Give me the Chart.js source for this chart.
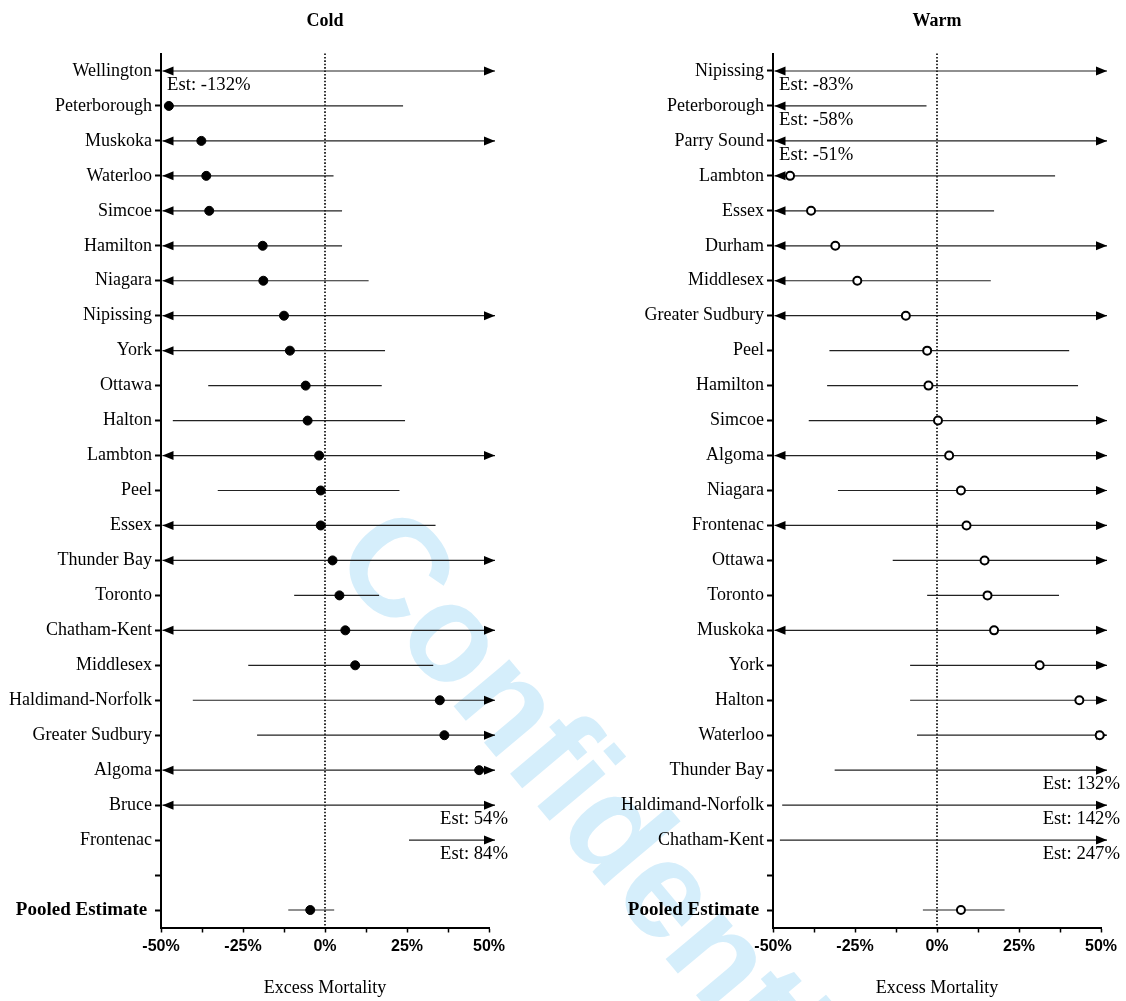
<!DOCTYPE html>
<html>
<head>
<meta charset="utf-8">
<title>Excess Mortality – Cold and Warm</title>
<script src="https://cdn.jsdelivr.net/npm/chart.js@4.4.1/dist/chart.umd.min.js"></script>
<style>
  html, body { margin: 0; padding: 0; background: #fff; }
  #page { position: relative; width: 1126px; height: 1001px; overflow: hidden; }
  #stamp {
    position: absolute; left: 419px; top: 483px;
    font: bold 138px 'Liberation Sans', Arial, sans-serif; line-height: 1;
    color: #d5eefb; white-space: nowrap;
    transform-origin: 0 0; transform: rotate(50deg);
  }
  canvas { position: absolute; top: 0; }
  #cold { left: 0; }
  #warm { left: 612px; }
</style>
</head>
<body>
<div id="page">
  <div id="stamp">Confidential</div>
  <canvas id="cold" width="560" height="1001"></canvas>
  <canvas id="warm" width="514" height="1001"></canvas>
</div>
<script>
// Excess mortality (%) by health unit, with 95% CI.
// A null bound means the interval runs past the axis (drawn as an arrow).

const coldRegions = ['Wellington', 'Peterborough', 'Muskoka', 'Waterloo', 'Simcoe', 'Hamilton', 'Niagara',
  'Nipissing', 'York', 'Ottawa', 'Halton', 'Lambton', 'Peel', 'Essex', 'Thunder Bay', 'Toronto',
  'Chatham-Kent', 'Middlesex', 'Haldimand-Norfolk', 'Greater Sudbury', 'Algoma', 'Bruce', 'Frontenac'];
const coldEst   = [-132, -47.6, -37.7, -36.2, -35.3, -19.0, -18.8, -12.5, -10.7, -5.9, -5.3, -1.8, -1.3, -1.3,
  2.3, 4.4, 6.2, 9.2, 35.0, 36.4, 47.0, 54, 84];
const coldLower = [null, -49, null, null, null, null, null, null, null, -35.6, -46.4, null, -32.7, null,
  null, -9.4, null, -23.4, -40.3, -20.7, null, null, 25.6];
const coldUpper = [null, 23.8, null, 2.6, 5.2, 5.2, 13.3, null, 18.3, 17.3, 24.4, null, 22.7, 33.7,
  null, 16.5, null, 33.0, null, null, null, null, null];
const coldPooled = { est: -4.5, lower: -11.2, upper: 2.8 };

const warmRegions = ['Nipissing', 'Peterborough', 'Parry Sound', 'Lambton', 'Essex', 'Durham', 'Middlesex',
  'Greater Sudbury', 'Peel', 'Hamilton', 'Simcoe', 'Algoma', 'Niagara', 'Frontenac', 'Ottawa', 'Toronto',
  'Muskoka', 'York', 'Halton', 'Waterloo', 'Thunder Bay', 'Haldimand-Norfolk', 'Chatham-Kent'];
const warmEst   = [-83, -58, -51, -44.8, -38.4, -31.0, -24.3, -9.5, -3.0, -2.6, 0.3, 3.7, 7.3, 9.0,
  14.5, 15.4, 17.4, 31.3, 43.4, 49.6, 132, 142, 247];
const warmLower = [null, null, null, null, null, null, null, null, -32.8, -33.5, -39.1, null, -30.2, null,
  -13.5, -3.0, null, -8.2, -8.2, -6.1, -31.2, -47.2, -47.9];
const warmUpper = [null, -3.2, null, 36.0, 17.4, null, 16.4, null, 40.3, 43.0, null, null, null, null,
  null, 37.2, null, null, null, null, null, null, null];
const warmPooled = { est: 7.3, lower: -4.3, upper: 20.6 };

const xTickValues = [-50, -25, 0, 25, 50];
const POOLED_LABEL = 'Pooled Estimate ';

const SERIF = "'Liberation Serif', 'Times New Roman', serif";
const SANS = "'Liberation Sans', Arial, sans-serif";

function arrowHead(ctx, tipX, y, dir) {
  // dir = 1: points left, dir = -1: points right
  ctx.beginPath();
  ctx.moveTo(tipX, y);
  ctx.lineTo(tipX + dir * 11, y - 4.5);
  ctx.lineTo(tipX + dir * 11, y + 4.5);
  ctx.closePath();
  ctx.fill();
}

function intervalsPlugin(entries, heading) {
  return {
    id: 'intervals',
    beforeDatasetsDraw(chart) {
      const { ctx, chartArea: area, scales: { x, y } } = chart;
      ctx.save();
      // null-effect reference line
      const x0 = x.getPixelForValue(0);
      ctx.strokeStyle = '#000';
      ctx.lineWidth = 1.6;
      ctx.setLineDash([1.6, 1.8]);
      ctx.beginPath();
      ctx.moveTo(x0, area.top);
      ctx.lineTo(x0, area.bottom);
      ctx.stroke();
      ctx.setLineDash([]);

      const xl = x.getPixelForValue(x.min);
      const xr = x.getPixelForValue(x.max);
      entries.forEach(e => {
        const py = y.getPixelForValue(e.row);
        const leftOpen = e.lower === null || e.lower < x.min;
        const rightOpen = e.upper === null || e.upper > x.max;
        const a = leftOpen ? xl + 1.5 : x.getPixelForValue(e.lower);
        const b = rightOpen ? xr + 6 : x.getPixelForValue(e.upper);
        ctx.strokeStyle = '#222';
        ctx.lineWidth = 1.2;
        ctx.beginPath();
        ctx.moveTo(a, py);
        ctx.lineTo(b, py);
        ctx.stroke();
        ctx.fillStyle = '#000';
        if (leftOpen) arrowHead(ctx, a, py, 1);
        if (rightOpen) arrowHead(ctx, b, py, -1);

        if (e.est < x.min || e.est > x.max) {
          const txt = 'Est: ' + e.est + '%';
          ctx.font = '18.7px ' + SERIF;
          ctx.textBaseline = 'middle';
          if (e.est < x.min) {
            ctx.textAlign = 'left';
            ctx.fillText(txt, xl + 6, py + 14);
          } else {
            ctx.textAlign = 'right';
            ctx.fillText(txt, xr + 19, py + 14);
          }
        }
      });
      ctx.restore();
    },
    afterDraw(chart) {
      const { ctx, chartArea: area } = chart;
      ctx.save();
      ctx.font = 'bold 18px ' + SERIF;
      ctx.fillStyle = '#000';
      ctx.textAlign = 'center';
      ctx.textBaseline = 'alphabetic';
      ctx.fillText(heading, (area.left + area.right) / 2, 26);
      ctx.restore();
    }
  };
}

function forestPlot(canvasId, heading, regions, est, lower, upper, pooled, hollow, padRight) {
  const rows = regions.concat(['', POOLED_LABEL]);
  const entries = regions.map((r, i) => ({ row: i, label: r, est: est[i], lower: lower[i], upper: upper[i] }));
  entries.push({ row: rows.length - 1, label: POOLED_LABEL, est: pooled.est, lower: pooled.lower, upper: pooled.upper });

  const dots = entries
    .filter(e => e.est >= -50 && e.est <= 50)
    .map(e => ({ x: e.est, y: e.label }));

  return new Chart(document.getElementById(canvasId), {
    type: 'scatter',
    data: {
      datasets: [{
        data: dots,
        pointStyle: 'circle',
        pointRadius: hollow ? 4 : 4.5,
        pointHoverRadius: hollow ? 4 : 4.5,
        pointBackgroundColor: hollow ? '#fff' : '#000',
        pointBorderColor: '#000',
        pointBorderWidth: hollow ? 2 : 1,
        clip: 10
      }]
    },
    options: {
      responsive: false,
      animation: false,
      events: [],
      layout: { padding: { left: 0, right: padRight, top: 53.5, bottom: 0 } },
      plugins: { legend: { display: false }, tooltip: { enabled: false }, title: { display: false } },
      scales: {
        x: {
          type: 'linear', position: 'bottom', min: -50, max: 50,
          ticks: {
            stepSize: 12.5, autoSkip: false, maxRotation: 0, padding: 4, color: '#000',
            font: { family: SANS, size: 16, weight: 'bold' },
            callback: v => xTickValues.includes(v) ? v + '%' : ''
          },
          grid: { display: true, drawOnChartArea: false, drawTicks: true, tickLength: 5, tickWidth: 1.5, tickColor: '#000' },
          border: { display: true, color: '#000', width: 2 },
          title: {
            display: true, text: 'Excess Mortality', color: '#000',
            font: { family: SERIF, size: 18 }, padding: { top: 0, bottom: 2 }
          },
          afterFit: s => { s.height = 73.5; s.paddingLeft = 0; s.paddingRight = 0; }
        },
        y: {
          type: 'category', labels: rows, offset: true,
          ticks: {
            autoSkip: false, padding: 3, color: '#000',
            font: c => c.index === rows.length - 1
              ? { family: SERIF, size: 19, weight: 'bold' }
              : { family: SERIF, size: 18, weight: 'normal' }
          },
          grid: { display: true, drawOnChartArea: false, drawTicks: true, tickLength: 6, tickWidth: 2, tickColor: '#000' },
          border: { display: true, color: '#000', width: 2 },
          afterFit: s => { s.width = 161; s.paddingTop = 0; s.paddingBottom = 0; }
        }
      }
    },
    plugins: [intervalsPlugin(entries, heading)]
  });
}

forestPlot('cold', 'Cold', coldRegions, coldEst, coldLower, coldUpper, coldPooled, false, 71);
forestPlot('warm', 'Warm', warmRegions, warmEst, warmLower, warmUpper, warmPooled, true, 25);
</script>
</body>
</html>
